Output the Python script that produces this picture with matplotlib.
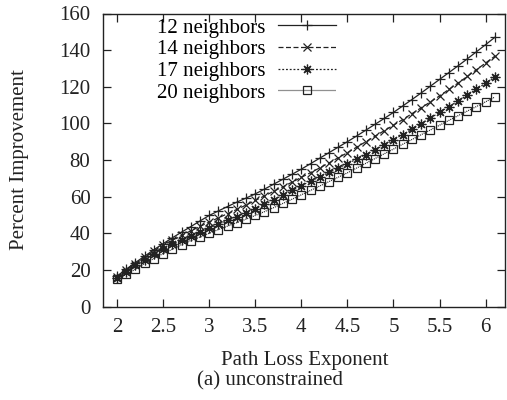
import matplotlib
matplotlib.use('Agg')
from matplotlib import pyplot as plt

# path loss exponent values (0.1 steps)
exponent = [2.0, 2.1, 2.2, 2.3, 2.4, 2.5, 2.6, 2.7, 2.8, 2.9,
            3.0, 3.1, 3.2, 3.3, 3.4, 3.5, 3.6, 3.7, 3.8, 3.9,
            4.0, 4.1, 4.2, 4.3, 4.4, 4.5, 4.6, 4.7, 4.8, 4.9,
            5.0, 5.1, 5.2, 5.3, 5.4, 5.5, 5.6, 5.7, 5.8, 5.9,
            6.0, 6.1]

n12 = [16.6, 20.4, 24.0, 27.5, 31.0, 34.3, 37.5, 40.6, 43.6, 46.7,
       49.7, 52.2, 54.6, 57.0, 59.2, 61.5, 64.1, 66.8, 69.5, 72.2,
       75.0, 78.0, 81.0, 84.0, 87.0, 90.0, 93.1, 96.3, 99.5, 102.7,
       106.0, 109.5, 113.0, 116.6, 120.3, 124.0, 127.7, 131.4, 135.2, 139.1,
       143.0, 147.0]

n14 = [16.2, 19.8, 23.3, 26.8, 30.2, 33.5, 36.2, 38.8, 41.3, 43.7,
       46.1, 48.4, 50.7, 53.0, 55.4, 57.9, 60.4, 62.9, 65.4, 67.9,
       70.5, 73.1, 75.7, 78.4, 81.2, 84.0, 87.0, 90.0, 93.0, 96.0,
       99.0, 102.1, 105.3, 108.5, 111.7, 115.0, 118.5, 122.0, 125.6, 129.3,
       133.0, 136.7]

n17 = [15.8, 19.1, 22.4, 25.6, 28.6, 31.5, 34.0, 36.4, 38.7, 40.9,
       43.0, 45.0, 47.0, 49.1, 51.2, 53.4, 55.8, 58.3, 60.8, 63.4,
       66.0, 68.4, 70.8, 73.2, 75.6, 78.0, 80.5, 83.0, 85.6, 88.3,
       91.0, 93.9, 96.8, 99.8, 102.9, 106.0, 109.1, 112.2, 115.4, 118.7,
       122.0, 125.3]

n20 = [14.8, 17.5, 20.4, 23.5, 26.2, 28.9, 31.2, 33.8, 36.0, 37.9,
       40.0, 42.0, 43.9, 45.8, 47.7, 49.7, 51.8, 54.0, 56.3, 58.6,
       61.0, 63.4, 65.8, 68.2, 70.6, 73.0, 75.6, 78.2, 80.8, 83.4,
       86.0, 88.6, 91.2, 93.8, 96.4, 99.0, 101.6, 104.2, 106.7, 109.2,
       111.8, 114.4]

labels = ['12 neighbors', '14 neighbors', '17 neighbors', '20 neighbors']
xticks = [2, 2.5, 3, 3.5, 4, 4.5, 5, 5.5, 6]
yticks = [0, 20, 40, 60, 80, 100, 120, 140, 160]

plt.rcParams['font.family'] = ['Liberation Serif', 'DejaVu Serif']
fs = 15

fig = plt.figure(figsize=(5.07, 4.0), dpi=100)
ax = fig.add_axes([103 / 507, 93.5 / 400, 402 / 507, 293 / 400])

styles = [
    dict(ls='-', marker='+', ms=7, mfc='none'),
    dict(ls=(0, (4, 2)), marker='x', ms=6, mfc='none'),
    dict(ls=(0, (1.5, 1.5)), marker=(8, 2, 0), ms=7, mfc='none'),
    dict(ls=(0, (0.8, 0.8)), marker='s', ms=6, mfc='none'),
]
for ys, lab, st in zip([n12, n14, n17, n20], labels, styles):
    ax.plot(exponent, ys, color='#222222', lw=0.9, mew=0.9, label=lab, **st)

ax.set_xlim(1.848, 6.21)
ax.set_ylim(0, 160)
ax.set_xticks(xticks)
ax.set_xticklabels([f'{t:g}' for t in xticks])
ax.set_yticks(yticks)
ax.tick_params(direction='in', top=True, right=True, length=6, width=0.9,
               labelsize=fs, colors='#222222')
ax.tick_params(axis='x', pad=8)
ax.tick_params(axis='y', pad=9)
for sp in ax.spines.values():
    sp.set_linewidth(1.0)
    sp.set_color('#222222')

# gnuplot-like key: text first, sample after
leg = ax.legend(loc='upper left', bbox_to_anchor=(157 / 507, 382 / 400),
                bbox_transform=fig.transFigure, frameon=False, fontsize=fs,
                markerfirst=False, numpoints=1, handlelength=2.8,
                handletextpad=0.6, labelspacing=0.1, borderaxespad=0,
                borderpad=0)

fig.text(305 / 507, 40 / 400, 'Path Loss Exponent', ha='center', va='center',
         fontsize=fs, color='#222222')
fig.text(270 / 507, 19 / 400, '(a) unconstrained', ha='center', va='center',
         fontsize=fs, color='#222222')
fig.text(20 / 507, 240 / 400, 'Percent Improvement', ha='center', va='center',
         rotation=90, fontsize=fs, color='#222222')

fig.savefig('out.png', dpi=100)
